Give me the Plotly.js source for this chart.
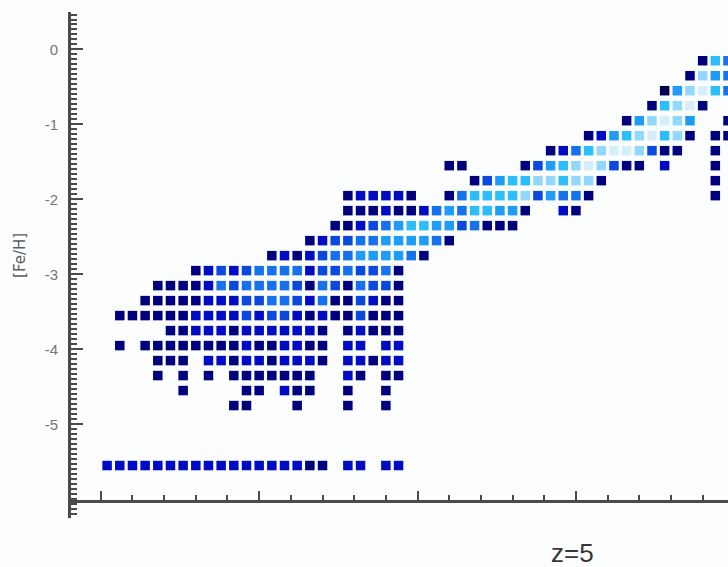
<!DOCTYPE html>
<html>
<head>
<meta charset="utf-8">
<script src="https://cdn.plot.ly/plotly-3.0.1.min.js"></script>
<style>
  html, body { margin: 0; padding: 0; background: #fcfdfe; }
  #chart { width: 728px; height: 567px; }
</style>
</head>
<body>
<div id="chart"></div>
<script>
// [Fe/H] at the centre of each row of cells, top to bottom
const fehRows = [-0.15, -0.35, -0.55, -0.75, -0.95, -1.15, -1.35, -1.55, -1.75, -1.95,
                 -2.15, -2.35, -2.55, -2.75, -2.95, -3.15, -3.35, -3.55, -3.75, -3.95,
                 -4.15, -4.35, -4.55, -4.75, -4.95, -5.15, -5.35, -5.55];

// centres of the horizontal bins
const xBins = [0.04, 0.12, 0.20, 0.28, 0.36, 0.44, 0.52, 0.60, 0.68, 0.76,
               0.84, 0.92, 1.00, 1.08, 1.16, 1.24, 1.32, 1.40, 1.48, 1.56,
               1.64, 1.72, 1.80, 1.88, 1.96, 2.04, 2.12, 2.20, 2.28, 2.36,
               2.44, 2.52, 2.60, 2.68, 2.76, 2.84, 2.92, 3.00, 3.08, 3.16,
               3.24, 3.32, 3.40, 3.48, 3.56, 3.64, 3.72, 3.80, 3.88, 3.96];

// filled cells of each row: [first bin, density level of each consecutive bin]
const rowRuns = [
  [[47, "275"]],
  [[46, "2865"]],
  [[44, "168975"]],
  [[43, "27892"]],
  [[41, "268986"], [49, "2"]],
  [[38, "236789782"], [48, "22"]],
  [[35, "23578998422"], [48, "2"]],
  [[27, "22"], [33, "2467898422"], [44, "3"], [48, "2"]],
  [[29, "24677887882"], [48, "2"]],
  [[19, "233332"], [27, "257777846552"], [48, "2"]],
  [[19, "222322356577662"], [36, "32"]],
  [[18, "223456776645222"]],
  [[16, "234455666652"]],
  [[13, "2323455666652"]],
  [[7, "23434555534454452"]],
  [[4, "22223545555425425442"]],
  [[3, "222223334455435224322"]],
  [[1, "22222233334344323224222"]],
  [[5, "2233323333332"], [19, "23222"]],
  [[1, "2"], [3, "222222223223322"], [19, "33"], [22, "33"]],
  [[4, "222"], [8, "3323323332"], [19, "33233"]],
  [[4, "2"], [6, "2"], [8, "2"], [10, "2222222"], [19, "32"], [22, "22"]],
  [[6, "2"], [11, "22"], [14, "322"], [19, "2"], [22, "2"]],
  [[10, "22"], [15, "2"], [19, "2"], [22, "2"]],
  [],
  [],
  [],
  [[0, "333333333333333322"], [19, "33"], [22, "33"]]
];

// y-axis tick labels
const fehTicks = [0, -1, -2, -3, -4, -5];
const fehTickText = ["0", "-1", "-2", "-3", "-4", "-5"];

// expand the runs into one point per cell
const cellX = [], cellY = [], cellLevel = [];
rowRuns.forEach((runs, r) => {
  runs.forEach(([start, levels]) => {
    for (let k = 0; k < levels.length; k++) {
      cellX.push(xBins[start + k]);
      cellY.push(fehRows[r]);
      cellLevel.push(Number(levels[k]));
    }
  });
});

const densityScale = [
  [0.000, '#000050'],
  [0.125, '#00007e'],
  [0.250, '#000cc4'],
  [0.375, '#0a48de'],
  [0.500, '#1672ec'],
  [0.625, '#1e9cf6'],
  [0.750, '#2cbdfc'],
  [0.875, '#92d8fc'],
  [1.000, '#d4eefc']
];

const trace = {
  type: 'scatter',
  mode: 'markers',
  x: cellX,
  y: cellY,
  hoverinfo: 'skip',
  marker: {
    symbol: 'square',
    size: 9.5,
    color: cellLevel,
    cmin: 1,
    cmax: 9,
    colorscale: densityScale,
    line: { width: 0 }
  },
  cliponaxis: true
};

const axisColor = '#4b4b4b';
const xRange = [-0.188, 3.96];
const yRange = [-6.25, 0.5];
const bottomPos = 0.0336;

const layout = {
  width: 728,
  height: 567,
  margin: { l: 71, r: 0, t: 12, b: 49 },
  paper_bgcolor: '#fcfdfe',
  plot_bgcolor: '#fcfdfe',
  showlegend: false,
  font: { family: 'Liberation Sans, Arial, sans-serif', color: '#6c6c6c' },
  xaxis: {
    range: xRange,
    anchor: 'free',
    position: bottomPos,
    showline: true, linecolor: axisColor, linewidth: 3,
    showgrid: false, zeroline: false, showticklabels: false,
    tickmode: 'linear', tick0: 0, dtick: 1,
    ticks: 'inside', ticklen: 9, tickwidth: 2, tickcolor: axisColor,
    minor: { dtick: 0.2, ticks: 'inside', ticklen: 5, tickwidth: 2, tickcolor: axisColor, showgrid: false }
  },
  xaxis2: {
    range: xRange,
    overlaying: 'x',
    anchor: 'free',
    position: bottomPos,
    showline: false, showgrid: false, zeroline: false, showticklabels: false,
    tickmode: 'linear', tick0: 0, dtick: 1,
    ticks: 'outside', ticklen: 9, tickwidth: 2, tickcolor: axisColor,
    minor: { dtick: 0.2, ticks: 'outside', ticklen: 5, tickwidth: 2, tickcolor: axisColor, showgrid: false }
  },
  xaxis3: {
    range: xRange,
    overlaying: 'x',
    side: 'top',
    anchor: 'y',
    showline: true, linecolor: axisColor, linewidth: 3,
    showgrid: false, zeroline: false, showticklabels: false,
    tickmode: 'linear', tick0: 0, dtick: 1,
    ticks: 'inside', ticklen: 9, tickwidth: 2, tickcolor: axisColor,
    minor: { dtick: 0.2, ticks: 'inside', ticklen: 4, tickwidth: 2, tickcolor: axisColor, showgrid: false }
  },
  yaxis: {
    range: yRange,
    showline: true, linecolor: axisColor, linewidth: 3,
    showgrid: false, zeroline: false,
    tickmode: 'array', tickvals: fehTicks, ticktext: fehTickText,
    ticks: 'inside', ticklen: 12, tickwidth: 2, tickcolor: axisColor,
    ticklabelstandoff: 7,
    tickfont: { size: 15, color: '#757575' },
    minor: { dtick: 1 / 15, tick0: 0, ticks: 'inside', ticklen: 6, tickwidth: 2, tickcolor: axisColor, showgrid: false }
  },
  yaxis2: {
    range: yRange,
    overlaying: 'y',
    side: 'right',
    anchor: 'free',
    position: 1,
    showline: false, showgrid: false, zeroline: false, showticklabels: false,
    tickmode: 'array', tickvals: fehTicks,
    ticks: 'inside', ticklen: 7, tickwidth: 2, tickcolor: '#9a9a9a'
  },
  annotations: [
    {
      text: '[Fe/H]',
      xref: 'paper', yref: 'paper',
      x: -0.0776, y: 0.518,
      xanchor: 'center', yanchor: 'middle',
      textangle: -90, showarrow: false,
      font: { family: 'DejaVu Sans, sans-serif', size: 15, color: '#5e5e5e' }
    },
    {
      text: 'z=5',
      xref: 'paper', yref: 'paper',
      x: 0.764, y: -0.069,
      xanchor: 'center', yanchor: 'middle',
      showarrow: false,
      font: { family: 'Liberation Sans, Arial, sans-serif', size: 26, color: '#363636' }
    }
  ]
};

Plotly.newPlot('chart', [trace], layout, { displayModeBar: false, staticPlot: true });
</script>
</body>
</html>
